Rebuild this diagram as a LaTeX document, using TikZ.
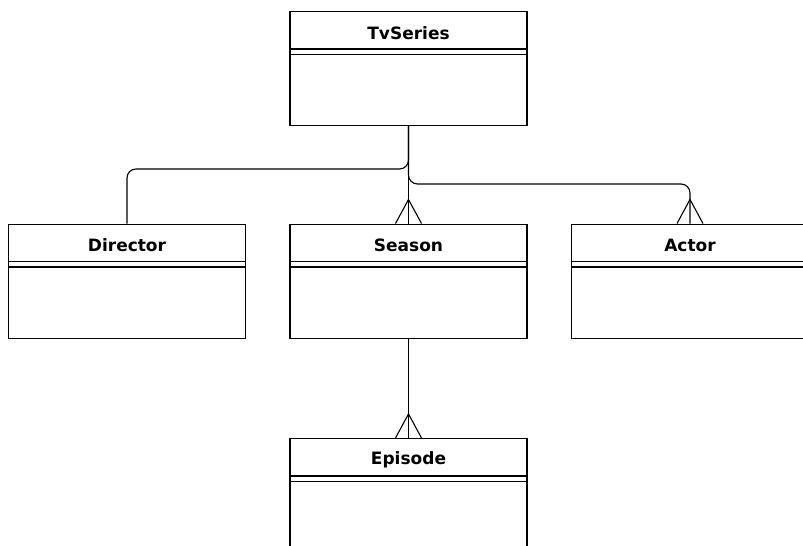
\documentclass[tikz,border=0pt]{standalone}
\usepackage{fontspec}
\setmainfont{DejaVu Sans}
\usetikzlibrary{positioning}

\tikzset{
  entity/.style={draw, line width=1.1pt, minimum width=237pt, minimum height=114pt, inner sep=0pt},
  etitle/.style={font=\bfseries\fontsize{17}{19}\selectfont, inner sep=0pt},
  link/.style={line width=1.1pt, rounded corners=9pt},
}

\begin{document}
\begin{tikzpicture}[x=1pt, y=-1pt]
  \useasboundingbox (0,0) rectangle (803,546);
  \clip (0,0) rectangle (803,546);

  % Entidades con su cabecera y doble raya
  \foreach \n/\x/\y/\t in {tv/408.5/11/TvSeries, director/127/223.5/Director,
      season/408.5/223.5/Season, actor/690/223.5/Actor, episode/408.5/438/Episode}{
    \node[entity, anchor=north] (\n) at (\x,\y) {};
    \node[etitle] (\n-title) at ([yshift=-22pt]\n.north) {\t};
    \draw[line width=1.1pt] ([yshift=-38pt]\n.north west) -- ([yshift=-38pt]\n.north east);
    \draw[line width=1.1pt] ([yshift=-43.5pt]\n.north west) -- ([yshift=-43.5pt]\n.north east);
  }

  % Alturas de los tramos horizontales
  \coordinate (leftbend) at (0,169);
  \coordinate (rightbend) at (0,184);

  % Relaciones
  \draw[link] (tv.south) -- (season.north);
  \draw[link] (tv.south) -- (tv.south |- leftbend) -- (director.north |- leftbend) -- (director.north);
  \draw[link] (tv.south) -- (tv.south |- rightbend) -- (actor.north |- rightbend) -- (actor.north);
  \draw[link] (season.south) -- (episode.north);

  % Patas de gallo (lado muchos)
  \foreach \n in {season, actor, episode}
    \draw[line width=1.1pt] ([xshift=-13pt]\n.north) -- ([yshift=24pt]\n.north) -- ([xshift=13pt]\n.north);
\end{tikzpicture}
\end{document}
